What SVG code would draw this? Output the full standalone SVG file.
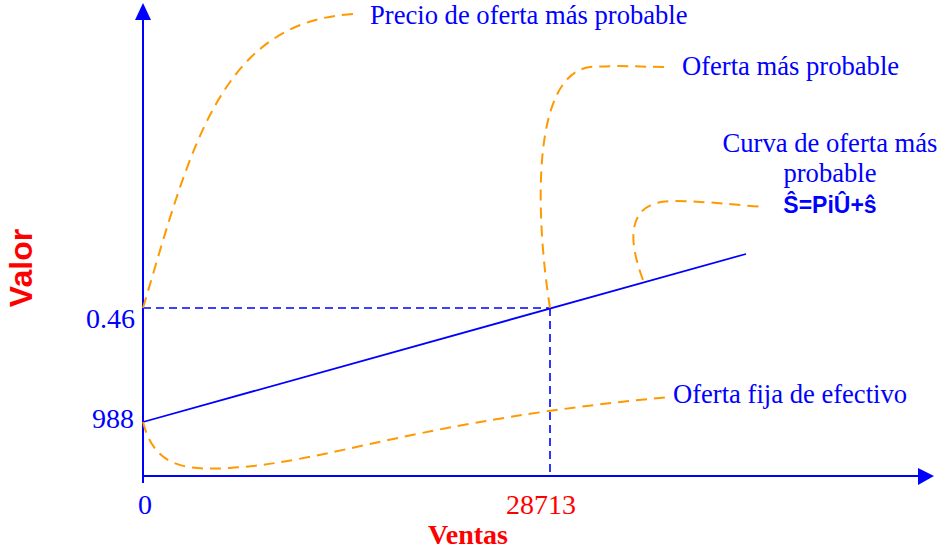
<svg xmlns="http://www.w3.org/2000/svg" width="940" height="549" viewBox="0 0 940 549">
<style>
.ax{stroke:#0000FF;stroke-width:2;fill:none}
.bl{stroke:#0000FF;stroke-width:1.8;fill:none}
.bd{stroke:#0000FF;stroke-width:1.6;fill:none;stroke-dasharray:8 5}
.od{stroke:#FF9900;stroke-width:2;fill:none;stroke-dasharray:11 7}
.t{font-family:"Liberation Serif","Times New Roman",serif;font-size:26.6px;fill:#0000FF}
.n{font-family:"Liberation Serif","Times New Roman",serif;font-size:28px}
.s{font-family:"Liberation Sans",Arial,sans-serif;font-weight:bold}
</style>
<rect width="940" height="549" fill="#FFFFFF"/>
<g id="axes">
<line class="ax" x1="143" y1="483" x2="143" y2="18"/>
<polygon points="143,3 135,20 151,20" fill="#0000FF"/>
<line class="ax" x1="143" y1="476" x2="919" y2="476"/>
<polygon points="934,476 918,468 918,485" fill="#0000FF"/>
</g>
<g id="connectors">
<line class="bl" x1="143" y1="422" x2="746" y2="254"/>
<line class="bd" x1="143" y1="308" x2="550" y2="308"/>
<line class="bd" x1="550" y1="308" x2="550" y2="475"/>
<path class="od" d="M143,308 C190,150 220,20 355,14"/>
<path class="od" d="M550,308 C536,220 530,75 590,67 C620,65 640,67 668,67"/>
<path class="od" d="M643,280 C628,240 625,200 675,201 C720,202 745,206 765,207"/>
<path class="od" d="M143,422 C155,470 190,470 230,468 C330,462 420,420 670,397"/>
</g>
<g id="label-precio"><text class="t" x="370" y="24">Precio de oferta más probable</text></g>
<g id="label-oferta"><text class="t" x="682" y="75">Oferta más probable</text></g>
<g id="label-curva">
<text class="t" x="830" y="152" text-anchor="middle">Curva de oferta más</text>
<text class="t" x="830" y="182" text-anchor="middle">probable</text>
<text class="s" x="830" y="213" text-anchor="middle" font-size="23" fill="#0000FF">Ŝ=PiÛ+ŝ</text>
</g>
<g id="label-fija"><text class="t" x="673" y="403">Oferta fija de efectivo</text></g>
<g id="y-ticks">
<text class="n" x="135" y="328" text-anchor="end" fill="#0000FF">0.46</text>
<text class="n" x="134" y="428" text-anchor="end" fill="#0000FF">988</text>
</g>
<g id="x-ticks">
<text class="n" x="145" y="514" text-anchor="middle" fill="#0000FF">0</text>
<text class="n" x="541" y="514" text-anchor="middle" fill="#FF0000">28713</text>
</g>
<g id="axis-titles">
<text class="n" x="468" y="544" text-anchor="middle" font-weight="bold" fill="#FF0000">Ventas</text>
<text class="s" font-size="32" fill="#FF0000" text-anchor="middle" transform="translate(32,268) rotate(-90)">Valor</text>
</g>
</svg>
